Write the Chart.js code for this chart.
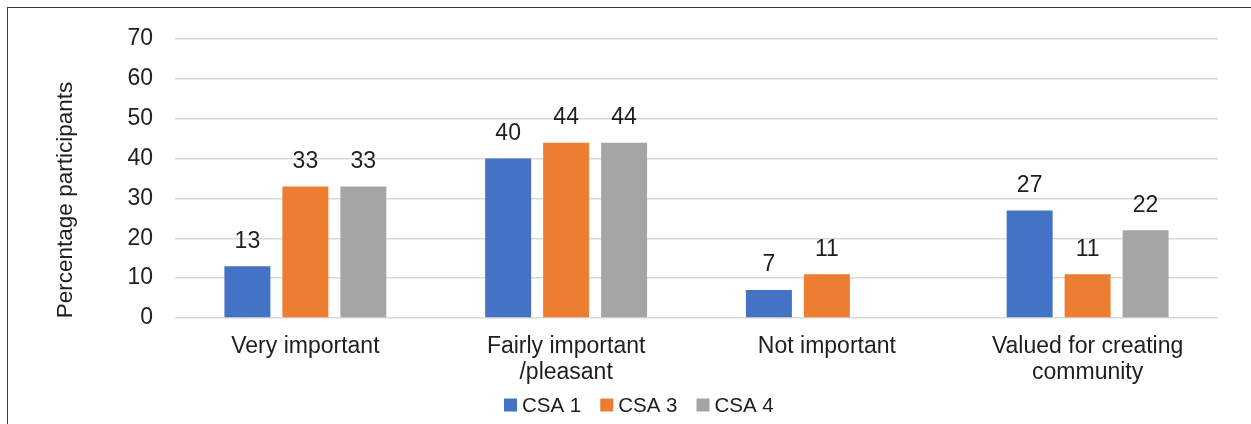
<!DOCTYPE html>
<html>
<head>
<meta charset="utf-8">
<script src="https://cdn.jsdelivr.net/npm/chart.js@4.4.1/dist/chart.umd.min.js"></script>
<style>
  html, body { margin: 0; padding: 0; background: #fff; }
  #wrap { position: relative; width: 1251px; height: 424px; }
  #frame { position: absolute; left: 7px; top: 7px; right: -10px; bottom: -10px;
           border-left: 1.5px solid #3a3a3a; border-top: 1.5px solid #3a3a3a; pointer-events: none; }
  canvas { position: absolute; left: 0; top: 0; }
</style>
</head>
<body>
<div id="wrap">
  <canvas id="chart" width="1251" height="424"></canvas>
  <div id="frame"></div>
</div>
<script>
const categories = [
  "Very important",
  ["Fairly important", "/pleasant"],
  "Not important",
  ["Valued for creating", "community"]
];
const csa1 = [13, 40, 7, 27];
const csa3 = [33, 44, 11, 11];
const csa4 = [33, 44, null, 22];
const yTicks = [0, 10, 20, 30, 40, 50, 60, 70];
const yTitle = "Percentage participants";

const FONT = "'Liberation Sans', Arial, sans-serif";
const TEXT = "#1e1e1e";

// Writes each bar's value above it
const valueLabels = {
  id: "valueLabels",
  afterDatasetsDraw(chart) {
    const ctx = chart.ctx;
    ctx.save();
    ctx.font = "23px " + FONT;
    ctx.fillStyle = TEXT;
    ctx.textAlign = "center";
    ctx.textBaseline = "middle";
    chart.data.datasets.forEach((ds, i) => {
      const meta = chart.getDatasetMeta(i);
      meta.data.forEach((bar, j) => {
        const v = ds.data[j];
        if (v === null || v === undefined) return;
        ctx.fillText(String(v), bar.x, bar.y - 25);
      });
    });
    ctx.restore();
  }
};

// Vertical axis title, centred a little below the plot middle
const axisTitle = {
  id: "axisTitle",
  afterDraw(chart) {
    const ctx = chart.ctx;
    ctx.save();
    ctx.font = "22.5px " + FONT;
    ctx.fillStyle = TEXT;
    ctx.textAlign = "center";
    ctx.textBaseline = "middle";
    ctx.translate(66, 200);
    ctx.rotate(-Math.PI / 2);
    ctx.fillText(yTitle, 0, 0);
    ctx.restore();
  }
};

// Compact legend row under the category labels
const bottomLegend = {
  id: "bottomLegend",
  afterDraw(chart) {
    const ctx = chart.ctx;
    ctx.save();
    ctx.font = "20.5px " + FONT;
    ctx.textBaseline = "middle";
    ctx.textAlign = "left";
    const y = 405;
    let x = 504;
    chart.data.datasets.forEach(ds => {
      ctx.fillStyle = ds.backgroundColor;
      ctx.fillRect(x, y - 6.5, 13, 13);
      x += 13 + 5;
      ctx.fillStyle = TEXT;
      ctx.fillText(ds.label, x, y + 1);
      x += ctx.measureText(ds.label).width + 19;
    });
    ctx.restore();
  }
};

new Chart(document.getElementById("chart"), {
  type: "bar",
  data: {
    labels: categories,
    datasets: [
      { label: "CSA 1", data: csa1, backgroundColor: "#4472C4" },
      { label: "CSA 3", data: csa3, backgroundColor: "#ED7D31" },
      { label: "CSA 4", data: csa4, backgroundColor: "#A5A5A5" }
    ]
  },
  options: {
    responsive: false,
    animation: false,
    devicePixelRatio: 1,
    layout: { padding: { left: 0, right: 33, top: 39, bottom: 39 } },
    datasets: { bar: { categoryPercentage: 0.667, barPercentage: 0.793 } },
    scales: {
      x: {
        grid: { display: false, drawTicks: false, tickLength: 0 },
        border: { display: false },
        ticks: { color: TEXT, font: { family: FONT, size: 23, lineHeight: 1.15 }, padding: 15, maxRotation: 0, autoSkip: false },
        afterFit(scale) { scale.height = 67; }
      },
      y: {
        min: 0, max: 70,
        afterBuildTicks(scale) { scale.ticks = yTicks.map(v => ({ value: v })); },
        grid: { color: "#d9d9d9", lineWidth: 1.5, drawTicks: false, tickLength: 0 },
        border: { display: false },
        ticks: { color: TEXT, font: { family: FONT, size: 23 }, padding: 22 },
        afterFit(scale) { scale.width = 175; }
      }
    },
    plugins: {
      legend: { display: false },
      tooltip: { enabled: false }
    }
  },
  plugins: [valueLabels, axisTitle, bottomLegend]
});
</script>
</body>
</html>
